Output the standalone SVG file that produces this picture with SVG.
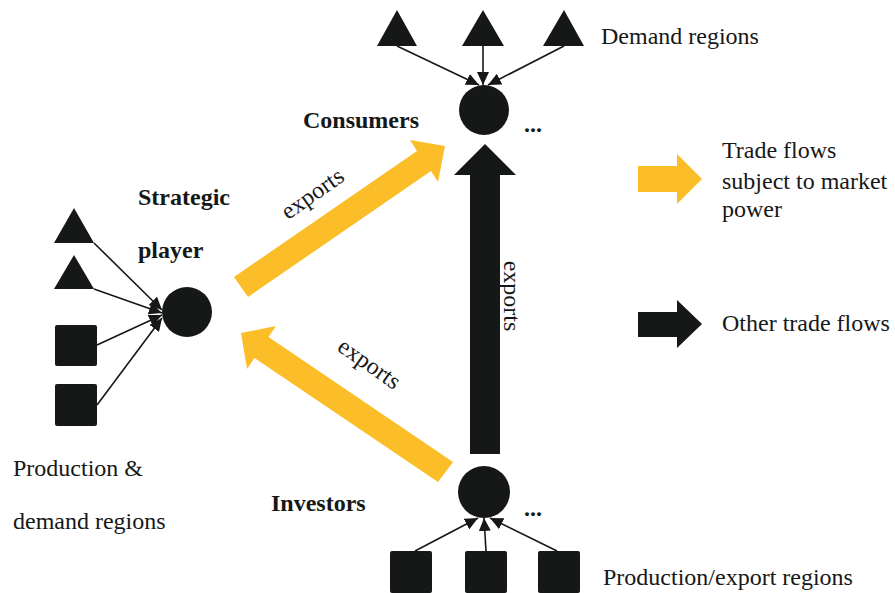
<svg xmlns="http://www.w3.org/2000/svg" width="895" height="593" viewBox="0 0 895 593">
<style>
.t{font-family:"Liberation Serif","Times New Roman",serif;font-size:24px;fill:#161817}
.b{font-weight:bold}
.k{fill:#161817}
.y{fill:#FCBE28}
.c{stroke:#161817;stroke-width:1.6;fill:none;marker-end:url(#ah)}
</style>
<defs>
<marker id="ah" markerUnits="userSpaceOnUse" markerWidth="14" markerHeight="12" refX="13" refY="6" orient="auto">
<path d="M0,0 L13,6 L0,12 Z" fill="#161817"/>
</marker>
</defs>
<rect width="895" height="593" fill="#ffffff"/>
<g id="connectors">
<line class="c" x1="397" y1="46" x2="479" y2="85"/>
<line class="c" x1="483" y1="46" x2="483" y2="85"/>
<line class="c" x1="564" y1="46" x2="488" y2="85"/>
<line class="c" x1="94" y1="243" x2="162" y2="310"/>
<line class="c" x1="94" y1="289" x2="162" y2="313"/>
<line class="c" x1="97" y1="345" x2="162" y2="315"/>
<line class="c" x1="97" y1="405" x2="162" y2="318"/>
<line class="c" x1="415" y1="551" x2="478" y2="518"/>
<line class="c" x1="486" y1="551" x2="484" y2="518"/>
<line class="c" x1="557" y1="551" x2="490" y2="518"/>
<polygon id="flow-strategic-consumers" class="y" points="234,277 417,151 410,140 445,146 438,182 431,171 248,297"/>
<polygon id="flow-investors-strategic" class="y" points="453,462 268.5,337 276,326 241,333 247,369 254.5,358 438,482"/>
<polygon id="flow-investors-consumers" class="k" points="470,454 470,175 454,175 485,144 516,175 500,175 500,454"/>
<text class="t" transform="translate(317,200) rotate(-35)" text-anchor="middle">exports</text>
<text class="t" transform="translate(365,370) rotate(35)" text-anchor="middle">exports</text>
<text class="t" transform="translate(504,296) rotate(90)" text-anchor="middle">exports</text>
</g>
<g id="demand-regions">
<polygon class="k" points="377,46 397,10 417,46"/>
<polygon class="k" points="462,46 483,10 504,46"/>
<polygon class="k" points="543,46 564,10 584,46"/>
<text class="t" x="601" y="44">Demand regions</text>
</g>
<g id="consumers">
<circle class="k" cx="484" cy="110" r="25"/>
<text class="t b" x="303" y="128">Consumers</text>
<text class="t b" x="524" y="132">...</text>
</g>
<g id="strategic-player">
<circle class="k" cx="187" cy="312" r="25"/>
<text class="t b" x="138" y="205">Strategic</text>
<text class="t b" x="138" y="258">player</text>
</g>
<g id="production-demand-regions">
<polygon class="k" points="54,243 74,208 94,243"/>
<polygon class="k" points="54,289 74,255 94,289"/>
<rect class="k" x="55" y="325" width="42" height="41" rx="2"/>
<rect class="k" x="55" y="384" width="42" height="42" rx="2"/>
<text class="t" x="13" y="476">Production &amp;</text>
<text class="t" x="13" y="529">demand regions</text>
</g>
<g id="investors">
<circle class="k" cx="484" cy="492" r="26"/>
<text class="t b" x="271" y="511">Investors</text>
<text class="t b" x="524" y="516">...</text>
</g>
<g id="production-export-regions">
<rect class="k" x="390" y="551" width="42" height="42" rx="2"/>
<rect class="k" x="465" y="551" width="42" height="42" rx="2"/>
<rect class="k" x="538" y="551" width="42" height="42" rx="2"/>
<text class="t" x="603" y="585">Production/export regions</text>
</g>
<g id="legend">
<polygon class="y" points="638,166 677,166 677,154 702,179 677,204 677,192 638,192"/>
<text class="t" x="722" y="158">Trade flows</text>
<text class="t" x="722" y="189">subject to market</text>
<text class="t" x="722" y="217">power</text>
<polygon class="k" points="638,312 677,312 677,300 702,324 677,348 677,337 638,337"/>
<text class="t" x="722" y="331">Other trade flows</text>
</g>
</svg>
